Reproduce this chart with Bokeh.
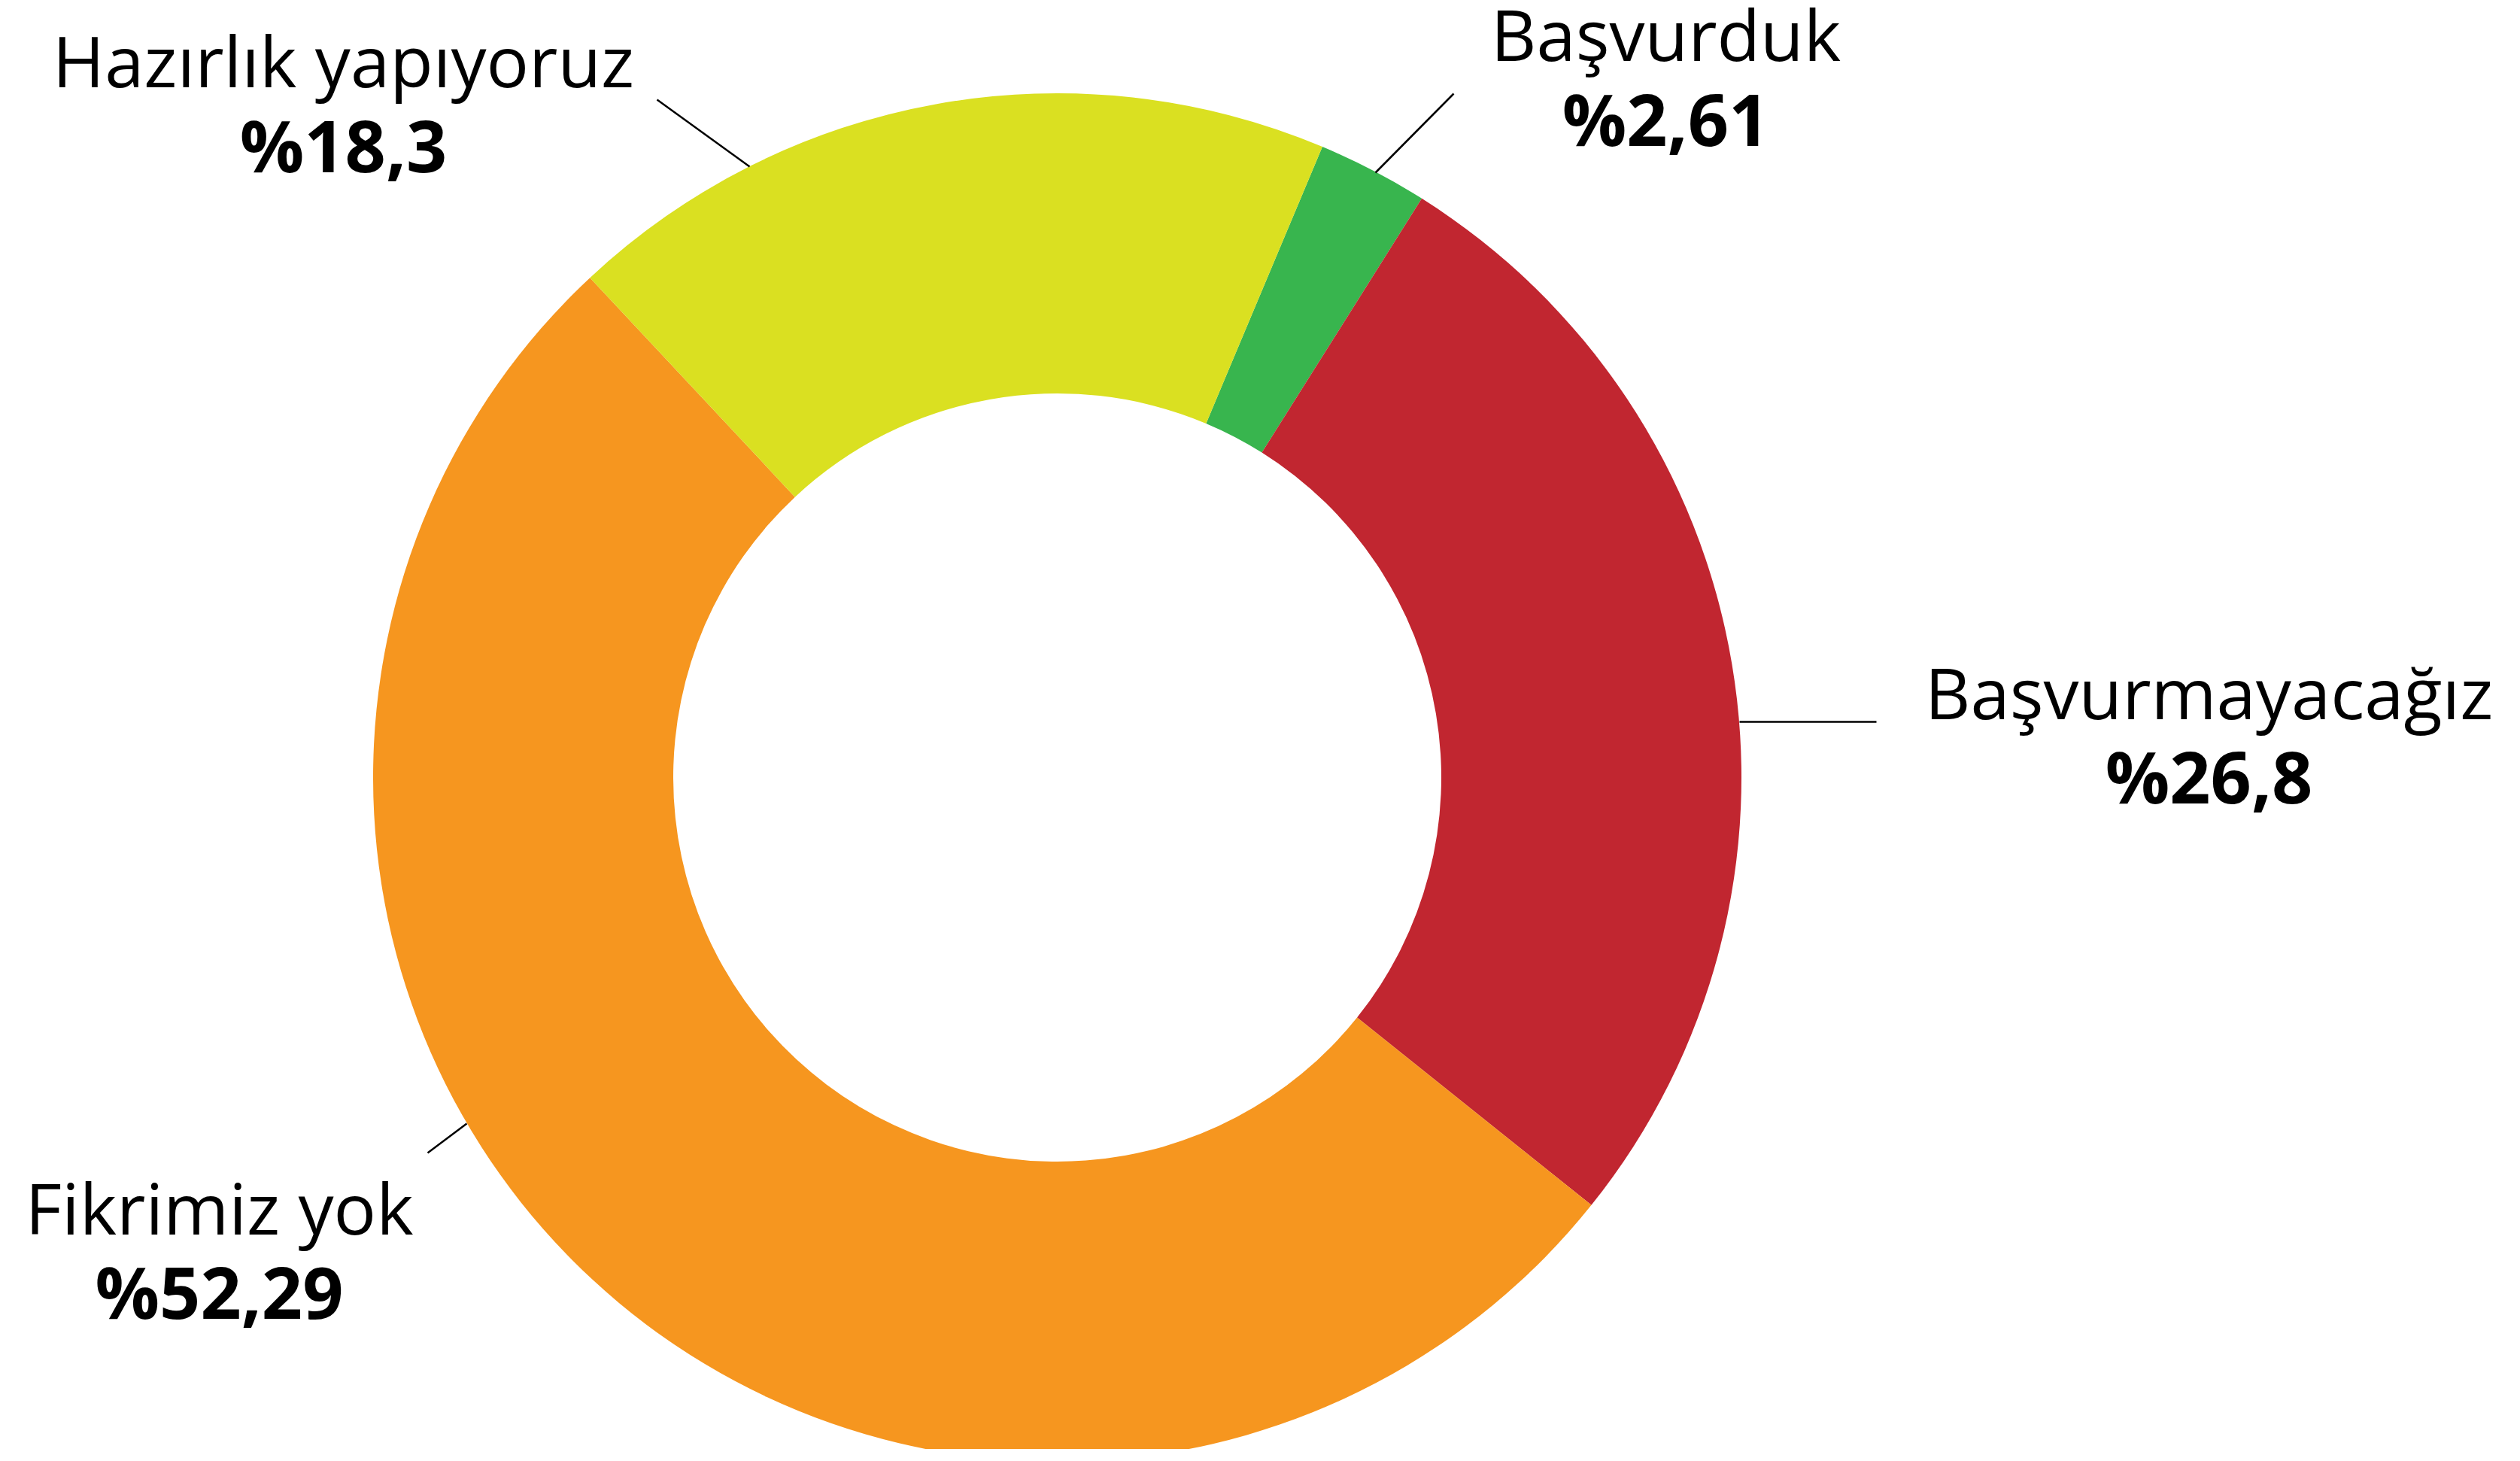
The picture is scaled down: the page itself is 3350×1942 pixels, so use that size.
import math
from bokeh.plotting import figure
from bokeh.models import Range1d, ColumnDataSource
from bokeh.core.properties import value
from bokeh.embed import file_html
from bokeh.resources import INLINE

# ---- data ----
categories = ["Başvurduk", "Başvurmayacağız", "Fikrimiz yok", "Hazırlık yapıyoruz"]
percent = [2.61, 26.8, 52.29, 18.3]

# ---- style / layout ----
colors = ["#38B54E", "#C12630", "#F6961F", "#DAE021"]
W, H = 3334, 1926
CX, CY = 1405, 893
R_OUT, R_IN = 909.5, 510.5
START_CW_FROM_TOP = 22.8  # degrees

# label layout (data coords, y up)
label_x = [2214, 2936, 291, 456]
name_base_y = [1882, 1007, 322, 1847]
pct_base_y = [1770, 896, 211, 1735]
lead_x0 = [1932, 2312, 568, 873]
lead_y0 = [1802, 967, 394, 1794]
lead_x1 = [1828, 2494, 620, 996]
lead_y1 = [1697, 967, 433, 1705]

total = sum(percent)
starts, ends = [], []
cum = 0.0
for v in percent:
    a0 = math.radians(90 - START_CW_FROM_TOP - cum / total * 360.0)
    cum += v
    a1 = math.radians(90 - START_CW_FROM_TOP - cum / total * 360.0)
    starts.append(a0)
    ends.append(a1)

src = ColumnDataSource(dict(
    cat=categories, val=percent, color=colors, start=starts, end=ends,
    x=[CX] * len(percent), y=[CY] * len(percent),
))

p = figure(width=W, height=H, output_backend="svg", toolbar_location=None,
           x_range=Range1d(0, W), y_range=Range1d(0, H),
           x_axis_location=None, y_axis_location=None, min_border=0)
p.grid.visible = False
p.outline_line_color = None
p.background_fill_color = "white"
p.border_fill_color = "white"

p.annular_wedge(x="x", y="y", inner_radius=R_IN, outer_radius=R_OUT,
                start_angle="start", end_angle="end", direction="clock",
                fill_color="color", line_color=None, source=src)

p.segment(x0=lead_x0, y0=lead_y0, x1=lead_x1, y1=lead_y1,
          line_color="black", line_width=2.5)

name_src = ColumnDataSource(dict(x=label_x, y=name_base_y, t=categories))
p.text(x="x", y="y", text="t", source=name_src, text_align="center",
       text_baseline="alphabetic", text_font=value("Open Sans"),
       text_font_size="94px", text_color="black")

pct_labels = ["%" + str(v).replace(".", ",") for v in percent]
pct_src = ColumnDataSource(dict(x=label_x, y=pct_base_y, t=pct_labels))
p.text(x="x", y="y", text="t", source=pct_src, text_align="center",
       text_baseline="alphabetic", text_font=value("Open Sans"),
       text_font_style="bold", text_font_size="95px", text_color="black")

open("out.html", "w").write(file_html(p, INLINE))
